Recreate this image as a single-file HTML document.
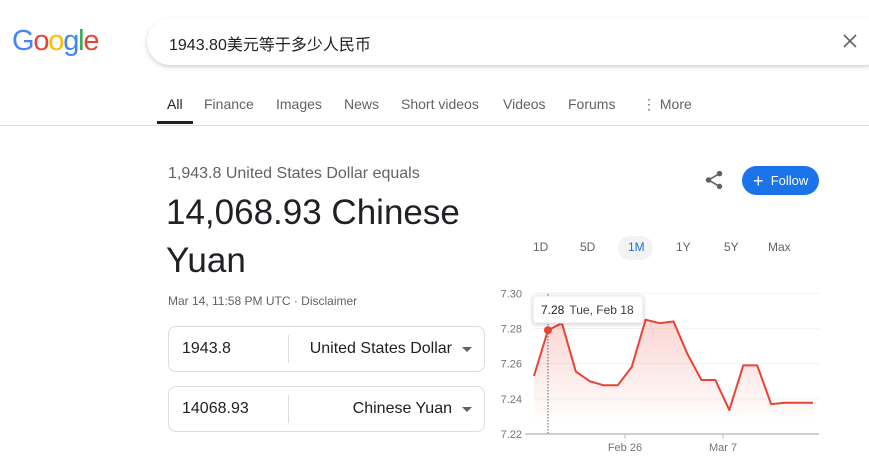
<!DOCTYPE html>
<html><head><meta charset="utf-8">
<style>
*{box-sizing:border-box;margin:0;padding:0}
body{width:869px;height:464px;overflow:hidden;background:#fff;font-family:"Liberation Sans","Noto Sans CJK SC",sans-serif;color:#202124;position:relative}
.abs{position:absolute}
.tab{position:absolute;top:96px;font-size:14px;color:#5f6368}
.box{position:absolute;left:168px;width:317px;height:46px;border:1px solid #dadce0;border-radius:8px}
.box .v{position:absolute;left:13px;top:13px;font-size:16px;color:#202124}
.box .sep{position:absolute;left:119px;top:8px;width:1px;height:28px;background:#dadce0}
.box .c{position:absolute;right:32px;top:13px;font-size:16px;color:#202124}
.box .arr{position:absolute;right:12px;top:20px;width:0;height:0;border-left:5px solid transparent;border-right:5px solid transparent;border-top:5px solid #5f6368}
.rng{position:absolute;top:240px;font-size:12px;color:#5f6368}
</style></head><body>
<div class="abs" style="left:12px;top:25px;font-size:29px;letter-spacing:-1.2px;font-family:'Liberation Sans',sans-serif"><span style="color:#4285f4">G</span><span style="color:#ea4335">o</span><span style="color:#fbbc05">o</span><span style="color:#4285f4">g</span><span style="color:#34a853">l</span><span style="color:#ea4335">e</span></div>
<div class="abs" style="left:147px;top:18px;width:740px;height:47px;border-radius:24px;box-shadow:0 2px 5px rgba(32,33,36,.2);background:#fff"></div>
<div class="abs" style="left:169px;top:31px;font-size:16px;color:#202124">1943.80美元等于多少人民币</div>
<svg class="abs" style="left:843px;top:34px" width="14" height="14" viewBox="0 0 14 14"><path d="M1 1L13 13M13 1L1 13" stroke="#5f6368" stroke-width="1.6"/></svg>
<div class="tab" style="left:167px;color:#202124">All</div>
<div class="abs" style="left:157px;top:121px;width:36px;height:3px;background:#202124"></div>
<div class="tab" style="left:204px">Finance</div>
<div class="tab" style="left:276px">Images</div>
<div class="tab" style="left:344px">News</div>
<div class="tab" style="left:401px">Short videos</div>
<div class="tab" style="left:503px">Videos</div>
<div class="tab" style="left:568px">Forums</div>
<div class="tab" style="left:642px">⋮ More</div>
<div class="abs" style="left:0;top:125px;width:869px;height:1px;background:#dadce0"></div>

<div class="abs" style="left:168px;top:165px;font-size:16px;color:#5f6368">1,943.8 United States Dollar equals</div>
<div class="abs" style="left:166px;top:189px;font-size:35px;line-height:48px;width:320px;color:#202124">14,068.93 Chinese Yuan</div>
<div class="abs" style="left:168px;top:294px;font-size:12px;color:#5f6368">Mar 14, 11:58 PM UTC · <span>Disclaimer</span></div>
<div class="box" style="top:326px"><div class="v">1943.8</div><div class="sep"></div><div class="c">United States Dollar</div><div class="arr"></div></div>
<div class="box" style="top:386px"><div class="v">14068.93</div><div class="sep"></div><div class="c">Chinese Yuan</div><div class="arr"></div></div>

<svg class="abs" style="left:703px;top:169px" width="22" height="22" viewBox="0 0 24 24"><path fill="#5f6368" d="M18 16.08c-.76 0-1.44.3-1.960.77L8.91 12.7c.05-.23.09-.46.09-.7s-.04-.47-.09-.7l7.05-4.110c.54.5 1.25.81 2.040.81 1.66 0 3-1.34 3-3s-1.34-3-3-3-3 1.34-3 3c0 .24.04.47.09.7L8.04 9.81C7.5 9.31 6.79 9 6 9c-1.66 0-3 1.34-3 3s1.34 3 3 3c.79 0 1.5-.31 2.04-.81l7.12 4.16c-.05.21-.08.43-.08.65 0 1.61 1.31 2.92 2.92 2.92s2.920-1.31 2.92-2.92-1.31-2.92-2.92-2.92z"/></svg>
<div class="abs" style="left:742px;top:166px;width:77px;height:29px;border-radius:15px;background:#1a73e8;color:#fff;font-size:13px;line-height:29px;padding-left:11px"><span style="font-size:18px;vertical-align:-2px">+</span>&nbsp; Follow</div>

<div class="abs" style="left:618px;top:236px;width:35px;height:24px;border-radius:12px;background:#f1f3f4"></div>
<div class="rng" style="left:533px">1D</div>
<div class="rng" style="left:580px">5D</div>
<div class="rng" style="left:628px;color:#1a73e8">1M</div>
<div class="rng" style="left:676px">1Y</div>
<div class="rng" style="left:724px">5Y</div>
<div class="rng" style="left:768px">Max</div>

<svg class="abs" id="chart" style="left:0;top:0" width="869" height="464"></svg>
<script>
const values=[7.253,7.279,7.283,7.2555,7.250,7.2477,7.2477,7.258,7.285,7.283,7.284,7.2655,7.2507,7.2507,7.2336,7.259,7.259,7.237,7.2378,7.2378,7.2378];
const yTicks=[7.22,7.24,7.26,7.28,7.30];
const yTickLabels=["7.22","7.24","7.26","7.28","7.30"];
const xTickPos=[6.52,13.55];
const xTickLabels=["Feb 26","Mar 7"];
const hoverIndex=1;
const hoverLabel="Tue, Feb 18";
const hoverValue="7.28";

const NS="http://www.w3.org/2000/svg";
const svg=document.getElementById('chart');
const x0=534,x1=813,yTop=293.3,yBot=434;
const xs=i=>x0+i*(x1-x0)/(values.length-1);
const ys=v=>yBot-(v-7.22)/(0.08)*(yBot-yTop);
function mk(t,a){const e=document.createElementNS(NS,t);for(const k in a)e.setAttribute(k,a[k]);svg.appendChild(e);return e;}
const defs=mk('defs',{});
defs.innerHTML='<linearGradient id="fg" x1="0" y1="0" x2="0" y2="1"><stop offset="0" stop-color="#ea4335" stop-opacity="0.22"/><stop offset="1" stop-color="#ea4335" stop-opacity="0"/></linearGradient>';
yTicks.forEach((t,i)=>{
  if(i>0){const g=mk('line',{x1:534,x2:819,y1:ys(t),y2:ys(t),stroke:'#f1f3f4','stroke-width':1});
  }
  const l=mk('text',{x:522,y:ys(t)+4,'font-size':11,fill:'#70757a','text-anchor':'end','font-family':'Liberation Sans'});
  
  l.textContent=yTickLabels[i];
});
let d='';values.forEach((v,i)=>{d+=(i?'L':'M')+xs(i)+','+ys(v);});
const area=mk('path',{d:d+'L'+xs(values.length-1)+','+(yBot-10)+'L'+x0+','+(yBot-10)+'Z',fill:'url(#fg)'});

const line=mk('path',{d:d,fill:'none',stroke:'#ea4335','stroke-width':2,'stroke-linejoin':'round'});

const ax=mk('line',{x1:525,x2:819,y1:yBot,y2:yBot,stroke:'#bdc1c6','stroke-width':1.5});

xTickPos.forEach((p,i)=>{
  const tk=mk('line',{x1:xs(p),x2:xs(p),y1:yBot,y2:yBot+5,stroke:'#bdc1c6','stroke-width':1});
  
  const l=mk('text',{x:xs(p),y:yBot+17,'font-size':11,fill:'#70757a','text-anchor':'middle','font-family':'Liberation Sans'});
  
  l.textContent=xTickLabels[i];
});
const hx=xs(hoverIndex),hy=ys(values[hoverIndex]);
const hl=mk('line',{x1:hx,x2:hx,y1:294,y2:yBot,stroke:'#5f6368','stroke-width':1,'stroke-dasharray':'1.5,1.5'});

const dot=mk('circle',{cx:hx,cy:hy,r:4,fill:'#ea4335'});

const tb=mk('rect',{x:533,y:296,width:110,height:27,rx:3,fill:'#fff',stroke:'#e8eaed'});

tb.style.filter='drop-shadow(0 1px 2px rgba(0,0,0,.2))';
const tt=mk('text',{x:541,y:314,'font-size':12,fill:'#202124','font-family':'Liberation Sans'});

tt.innerHTML='<tspan>'+hoverValue+'</tspan><tspan dx="5" fill="#3c4043">'+hoverLabel+'</tspan>';
</script>
</body></html>
